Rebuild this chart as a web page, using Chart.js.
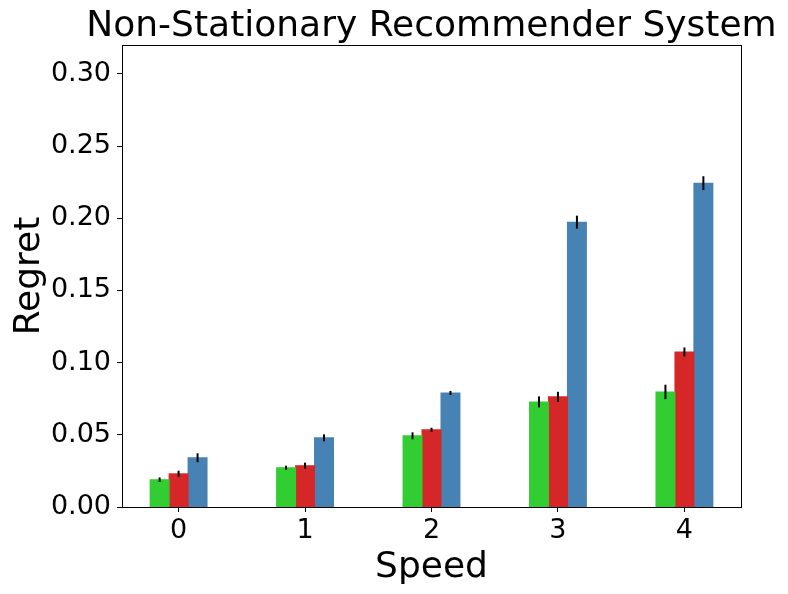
<!DOCTYPE html>
<html>
<head>
<meta charset="utf-8">
<script src="https://cdn.jsdelivr.net/npm/chart.js@4/dist/chart.umd.min.js"></script>
<style>
  html, body { margin: 0; padding: 0; background: #fff; }
  #wrap { width: 788px; height: 594px; }
</style>
</head>
<body>
<div id="wrap"><canvas id="chart" width="788" height="594"></canvas></div>
<script>
// Data
const speeds = [0, 1, 2, 3, 4];
const yTicks = [0, 0.05, 0.10, 0.15, 0.20, 0.25, 0.30];

const greenVals = [0.0189, 0.0272, 0.0493, 0.0728, 0.0797];
const greenErr  = [0.0016, 0.0014, 0.0024, 0.0038, 0.0050];
const redVals   = [0.0230, 0.0286, 0.0535, 0.0763, 0.1074];
const redErr    = [0.0021, 0.0021, 0.0014, 0.0035, 0.0031];
const blueVals  = [0.0341, 0.0479, 0.0790, 0.1973, 0.2243];
const blueErr   = [0.0031, 0.0024, 0.0014, 0.0045, 0.0048];

const FONT = "'DejaVu Sans', sans-serif";

function makeSet(label, vals, errs, color) {
    return {
        label: label,
        data: speeds.map((s, i) => ({ x: s, y: vals[i] })),
        errors: errs,
        backgroundColor: color,
        borderWidth: 0,
        inflateAmount: 0.5,
        categoryPercentage: 0.45,
        barPercentage: 1.0
    };
}

// error bars drawn on top of the bars, through the y scale
const errorBars = {
    id: 'errorBars',
    afterDatasetsDraw(chart) {
        const ctx = chart.ctx;
        const yScale = chart.scales.y;
        ctx.save();
        ctx.strokeStyle = '#000';
        ctx.lineWidth = 2;
        chart.data.datasets.forEach((ds, di) => {
            const meta = chart.getDatasetMeta(di);
            meta.data.forEach((bar, i) => {
                const v = ds.data[i].y, e = ds.errors[i];
                ctx.beginPath();
                ctx.moveTo(bar.x, yScale.getPixelForValue(v - e));
                ctx.lineTo(bar.x, yScale.getPixelForValue(v + e));
                ctx.stroke();
            });
        });
        ctx.restore();
    }
};

// axes frame (all four spines) and title centred over the axes
const frame = {
    id: 'frame',
    afterDraw(chart) {
        const { ctx, chartArea: a } = chart;
        ctx.save();
        ctx.strokeStyle = '#000';
        ctx.lineWidth = 1;
        ctx.strokeRect(Math.round(a.left) + 0.5, Math.round(a.top) + 0.5,
            Math.round(a.right - a.left), Math.round(a.bottom - a.top));
        ctx.fillStyle = '#000';
        ctx.font = '36px ' + FONT;
        ctx.textAlign = 'center';
        ctx.textBaseline = 'alphabetic';
        ctx.fillText('Non-Stationary Recommender System', (a.left + a.right) / 2, 36);
        ctx.restore();
    }
};

new Chart(document.getElementById('chart'), {
    type: 'bar',
    data: {
        datasets: [
            makeSet('Algorithm A', greenVals, greenErr, '#32CD32'),
            makeSet('Algorithm B', redVals, redErr, '#D62728'),
            makeSet('Algorithm C', blueVals, blueErr, '#4682B4')
        ]
    },
    options: {
        responsive: false,
        animation: false,
        layout: { padding: { top: 45, right: 47, left: 0, bottom: 0 } },
        plugins: {
            legend: { display: false },
            title: { display: false },
            tooltip: { enabled: false }
        },
        scales: {
            x: {
                type: 'linear',
                min: -0.4475,
                max: 4.4475,
                offset: false,
                afterFit(scale) { scale.height = 87; },
                afterBuildTicks(scale) { scale.ticks = speeds.map(v => ({ value: v })); },
                grid: { display: true, drawOnChartArea: false, offset: false, color: '#000', tickLength: 5, tickWidth: 1 },
                border: { display: true, color: '#000', width: 1 },
                ticks: {
                    color: '#000',
                    font: { family: FONT, size: 27 },
                    padding: 3,
                    callback: v => String(v)
                },
                title: {
                    display: true,
                    text: 'Speed',
                    color: '#000',
                    font: { family: FONT, size: 36 },
                    padding: { top: 0, bottom: 5 }
                }
            },
            y: {
                min: 0,
                max: 0.32,
                afterFit(scale) { scale.width = 122; },
                afterBuildTicks(scale) { scale.ticks = yTicks.map(v => ({ value: v })); },
                grid: { display: true, drawOnChartArea: false, color: '#000', tickLength: 5, tickWidth: 1 },
                border: { display: true, color: '#000', width: 1 },
                ticks: {
                    color: '#000',
                    font: { family: FONT, size: 27 },
                    padding: 6,
                    callback: v => v.toFixed(2)
                },
                title: {
                    display: true,
                    text: 'Regret',
                    color: '#000',
                    font: { family: FONT, size: 36 },
                    padding: { top: 8, bottom: 0 }
                }
            }
        }
    },
    plugins: [errorBars, frame]
});
</script>
</body>
</html>
